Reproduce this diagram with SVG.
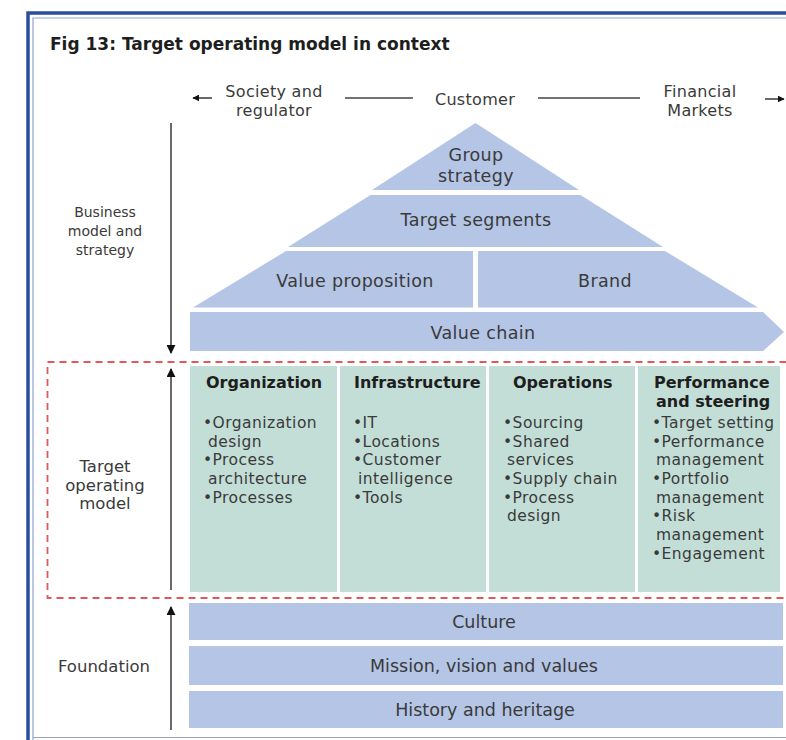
<svg xmlns="http://www.w3.org/2000/svg" width="786" height="740" viewBox="0 0 786 740">
<defs>
<style>
.t{font-family:"DejaVu Sans",sans-serif;fill:#3a3a3a}
.lbl{font-size:14px;text-anchor:middle}
.lbl2{font-size:16.5px;text-anchor:middle}
.top{font-size:16px;letter-spacing:0.3px;text-anchor:middle}
.pyr{font-size:17.5px;letter-spacing:0.35px;text-anchor:middle}
.fd{font-size:17.5px;text-anchor:middle}
.hd{font-size:16px;font-weight:bold;fill:#1e1e1e}
.it{font-size:15.5px;letter-spacing:0.45px}
.blue{fill:#b4c5e6}
.green{fill:#c3ded7}
.ln{stroke:#444;stroke-width:1.6;fill:none}
</style>
<marker id="ah" viewBox="0 0 10 10" refX="9" refY="5" markerWidth="7" markerHeight="7" markerUnits="userSpaceOnUse" orient="auto">
<path d="M0,0 L10,5 L0,10 z" fill="#111"/>
</marker>
<marker id="ah2" viewBox="0 0 10 10" refX="9" refY="5" markerWidth="9" markerHeight="9" markerUnits="userSpaceOnUse" orient="auto">
<path d="M0,0 L10,5 L0,10 z" fill="#111"/>
</marker>
</defs>
<rect width="786" height="740" fill="#fff"/>
<g id="frame">
<path d="M28,740 V13 H786" fill="none" stroke="#2e4d9e" stroke-width="3.5"/>
<path d="M33,740 V18 H786" fill="none" stroke="#8ea3d6" stroke-width="1.2"/>
<path d="M33,737.5 H786" fill="none" stroke="#9aa3b5" stroke-width="1.2"/>
</g>
<text id="title" class="t" x="50" y="50" font-size="17" font-weight="bold" style="fill:#1e1e1e">Fig 13: Target operating model in context</text>

<g id="context">
<text class="t top" x="274" y="97">Society and</text>
<text class="t top" x="274" y="116">regulator</text>
<text class="t top" x="475" y="105">Customer</text>
<text class="t top" x="700" y="97">Financial</text>
<text class="t top" x="700" y="116">Markets</text>
</g>

<g id="connectors">
<line class="ln" x1="212" y1="98" x2="193" y2="98" marker-end="url(#ah)"/>
<line class="ln" x1="765" y1="99" x2="784" y2="99" marker-end="url(#ah)"/>
<line class="ln" x1="345" y1="98" x2="413" y2="98"/>
<line class="ln" x1="538" y1="98" x2="640" y2="98"/>
<line class="ln" x1="171" y1="123" x2="171" y2="353" marker-end="url(#ah2)"/>
<line class="ln" x1="171" y1="590" x2="171" y2="369" marker-end="url(#ah2)"/>
<line class="ln" x1="171" y1="730" x2="171" y2="607" marker-end="url(#ah2)"/>
</g>

<g id="side-labels">
<text class="t lbl" x="105" y="217">Business</text>
<text class="t lbl" x="105" y="236">model and</text>
<text class="t lbl" x="105" y="255">strategy</text>
<text class="t lbl2" x="105" y="472">Target</text>
<text class="t lbl2" x="105" y="491">operating</text>
<text class="t lbl2" x="105" y="509">model</text>
<text class="t lbl2" x="104" y="672">Foundation</text>
</g>

<g id="group-strategy">
<path class="blue" d="M475.5,123 L579,190 L372,190 z"/>
<text class="t pyr" x="476" y="161">Group</text>
<text class="t pyr" x="476" y="182">strategy</text>
</g>
<g id="target-segments">
<path class="blue" d="M370.5,195 L580.5,195 L663,247 L288,247 z"/>
<text class="t pyr" x="476" y="226">Target segments</text>
</g>
<g id="value-proposition">
<path class="blue" d="M286,251 L473,251 L473,307.5 L193,307.5 z"/>
<text class="t pyr" x="355" y="287">Value proposition</text>
</g>
<g id="brand">
<path class="blue" d="M478,251 L665,251 L758,307.5 L478,307.5 z"/>
<text class="t pyr" x="605" y="287">Brand</text>
</g>
<g id="value-chain">
<path class="blue" d="M190,312 L763,312 L784,332 L763,351 L190,351 z"/>
<text class="t pyr" x="483" y="339">Value chain</text>
</g>

<rect id="tom-box" x="47.5" y="362" width="760" height="236" fill="none" stroke="#e0585c" stroke-width="1.8" stroke-dasharray="7,5"/>

<g id="organization">
<rect class="green" x="190" y="366" width="147" height="226"/>
<text class="t hd" x="206" y="388">Organization</text>
<text class="t it" x="203" y="428">•Organization</text>
<text class="t it" x="208" y="447">design</text>
<text class="t it" x="203" y="465">•Process</text>
<text class="t it" x="208" y="484">architecture</text>
<text class="t it" x="203" y="503">•Processes</text>
</g>
<g id="infrastructure">
<rect class="green" x="340" y="366" width="146" height="226"/>
<text class="t hd" x="354" y="388">Infrastructure</text>
<text class="t it" x="353" y="428">•IT</text>
<text class="t it" x="353" y="447">•Locations</text>
<text class="t it" x="353" y="465">•Customer</text>
<text class="t it" x="358" y="484">intelligence</text>
<text class="t it" x="353" y="503">•Tools</text>
</g>
<g id="operations">
<rect class="green" x="489" y="366" width="146" height="226"/>
<text class="t hd" x="513" y="388">Operations</text>
<text class="t it" x="503" y="428">•Sourcing</text>
<text class="t it" x="503" y="447">•Shared</text>
<text class="t it" x="507" y="465">services</text>
<text class="t it" x="503" y="484">•Supply chain</text>
<text class="t it" x="503" y="503">•Process</text>
<text class="t it" x="507" y="521">design</text>
</g>
<g id="performance">
<rect class="green" x="638" y="366" width="142" height="226"/>
<text class="t hd" x="654" y="388">Performance</text>
<text class="t hd" x="656" y="407">and steering</text>
<text class="t it" x="652" y="428">•Target setting</text>
<text class="t it" x="652" y="447">•Performance</text>
<text class="t it" x="656" y="465">management</text>
<text class="t it" x="652" y="484">•Portfolio</text>
<text class="t it" x="656" y="503">management</text>
<text class="t it" x="652" y="521">•Risk</text>
<text class="t it" x="656" y="540">management</text>
<text class="t it" x="652" y="559">•Engagement</text>
</g>

<g id="culture">
<rect class="blue" x="189" y="603" width="594" height="37"/>
<text class="t fd" x="484" y="628">Culture</text>
</g>
<g id="mission">
<rect class="blue" x="189" y="646" width="594" height="39"/>
<text class="t fd" x="484" y="672">Mission, vision and values</text>
</g>
<g id="history">
<rect class="blue" x="189" y="691" width="594" height="37"/>
<text class="t fd" x="485" y="716">History and heritage</text>
</g>
</svg>
